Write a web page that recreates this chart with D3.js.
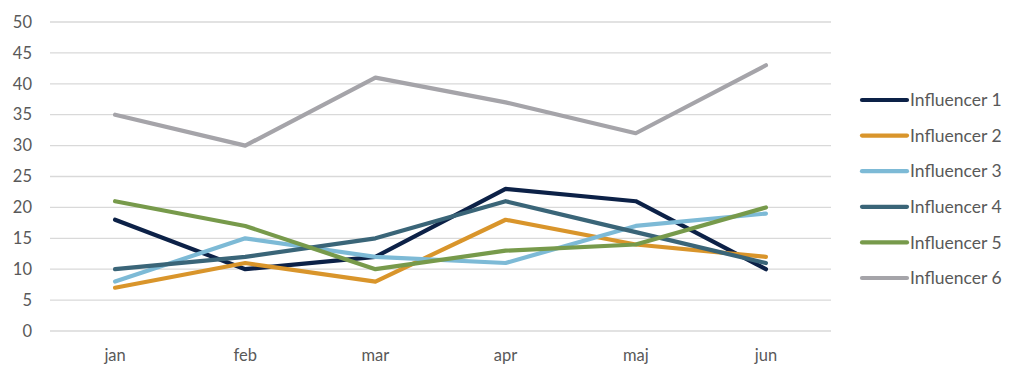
<!DOCTYPE html>
<html><head><meta charset="utf-8">
<script src="https://cdn.jsdelivr.net/npm/d3@7"></script>
<style>body{margin:0;background:#fff;} svg{display:block;font-family:Lato, "Open Sans", sans-serif;}</style>
</head><body>
<svg id="c" width="1024" height="380"></svg>
<script>
const months = ["jan","feb","mar","apr","maj","jun"];
const seriesNames = ["Influencer 1","Influencer 2","Influencer 3","Influencer 4","Influencer 5","Influencer 6"];
const inf1 = [18,10,12,23,21,10];
const inf2 = [7,11,8,18,14,12];
const inf3 = [8,15,12,11,17,19];
const inf4 = [10,12,15,21,16,11];
const inf5 = [21,17,10,13,14,20];
const inf6 = [35,30,41,37,32,43];
const yTicks = [0,5,10,15,20,25,30,35,40,45,50];
const colors = ["#0c2147","#d9952b","#7dbad6","#3a6578","#779a4b","#a5a4a9"];

(function(){
const series = [inf1,inf2,inf3,inf4,inf5,inf6].map((v,i)=>({name:seriesNames[i],values:v,color:colors[i]}));
const svg = d3.select("#c");
const mLeft=50,mRight=831,mTop=22,mBottom=331;
const x = d3.scaleBand().domain(months).range([mLeft,mRight]);
const y = d3.scaleLinear().domain([0,50]).range([mBottom,mTop]);

svg.append("g").selectAll("line").data(yTicks).join("line")
  .attr("x1",mLeft).attr("x2",mRight).attr("y1",d=>y(d)).attr("y2",d=>y(d))
  .attr("stroke","#d9d9d9").attr("stroke-width",1.3);

svg.append("g").selectAll("text").data(yTicks).join("text")
  .attr("x",32).attr("y",d=>y(d)).attr("dy","0.35em").attr("text-anchor","end")
  .attr("fill","#595959").style("font-size","16.5px").text(d=>d);

svg.append("g").selectAll("text").data(months).join("text")
  .attr("x",d=>x(d)+x.bandwidth()/2).attr("y",361).attr("text-anchor","middle")
  .attr("fill","#595959").style("font-size","16.5px").text(d=>d);

const line = d3.line().x((d,i)=>x(months[i])+x.bandwidth()/2).y(d=>y(d));
svg.append("g").selectAll("path").data(series).join("path")
  .attr("d",d=>line(d.values)).attr("fill","none").attr("stroke",d=>d.color)
  .attr("stroke-width",4.2).attr("stroke-linejoin","round").attr("stroke-linecap","round");

const lg = svg.append("g").selectAll("g").data(series).join("g")
  .attr("transform",(d,i)=>`translate(862,${100+i*35.6})`);
lg.append("line").attr("x1",0).attr("x2",45).attr("stroke",d=>d.color)
  .attr("stroke-width",4.2).attr("stroke-linecap","round");
lg.append("text").attr("x",48).attr("dy","0.35em").attr("fill","#595959")
  .style("font-size","17.5px").text(d=>d.name);
})();
</script>
</body></html>
